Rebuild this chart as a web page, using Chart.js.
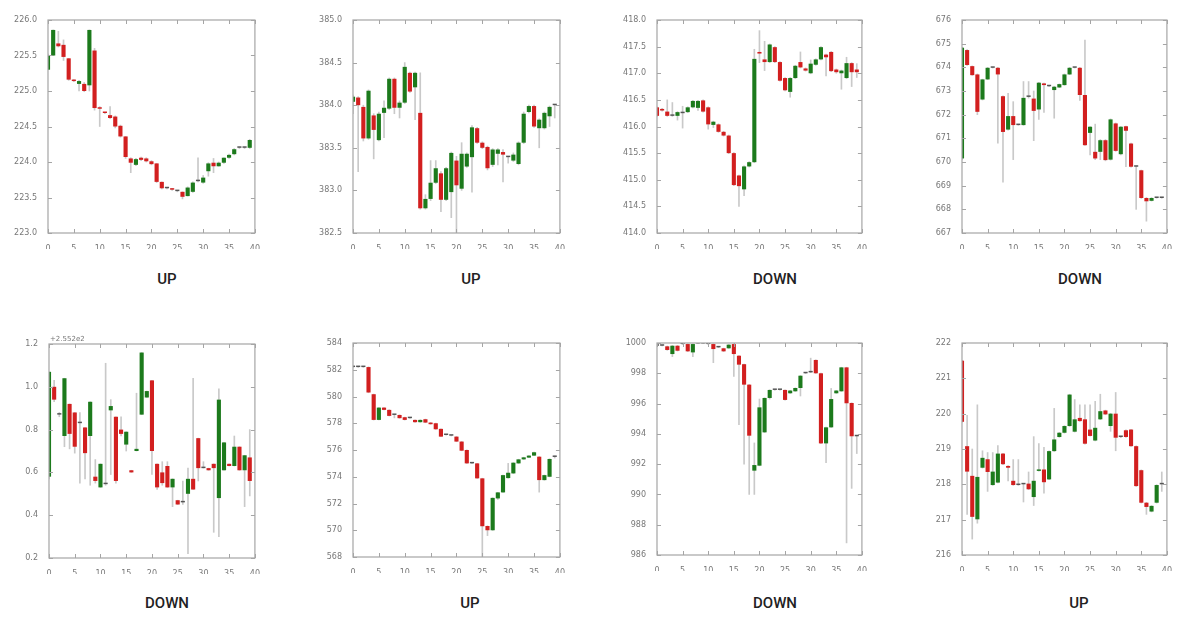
<!DOCTYPE html>
<html lang="en">
<head>
    <meta charset="UTF-8">
    <title>Candlestick panels</title>
    <script src="https://cdn.jsdelivr.net/npm/chart.js"></script>
    <style>
        body { margin: 0; background: #fff; width: 1200px; height: 630px; position: relative; overflow: hidden; }
        .panel { position: absolute; }
        .verdict {
            position: absolute;
            width: 120px;
            margin-left: -60px;
            text-align: center;
            font-family: Roboto, "Open Sans", sans-serif;
            font-weight: 500;
            font-size: 15px;
            color: #222;
        }
    </style>
</head>
<body>
    <div id="root"></div>
    <script>
        // panel 1
        const p1Open  = [225.30,225.50,225.67,225.65,225.46,225.15,225.10,225.10,225.08,225.57,224.77,224.70,224.66,224.64,224.51,224.36,224.05,223.96,224.06,224.05,224.01,223.98,223.72,223.63,223.62,223.59,223.58,223.52,223.58,223.73,223.71,223.87,223.99,223.94,223.99,224.06,224.11,224.20,224.20,224.20];
        const p1Close = [225.50,225.86,225.63,225.48,225.16,225.14,225.14,225.00,225.86,224.76,224.75,224.69,224.62,224.50,224.36,224.07,223.99,224.04,224.03,224.01,223.97,223.72,223.63,223.63,223.61,223.59,223.51,223.64,223.71,223.73,223.78,223.98,223.94,223.99,224.06,224.10,224.18,224.20,224.20,224.31];
        const p1High  = [225.52,225.86,225.84,225.72,225.46,225.16,225.15,225.12,225.86,225.60,224.78,224.70,224.78,224.65,224.52,224.36,224.06,224.05,224.07,224.06,224.02,223.98,223.72,223.64,223.63,223.60,223.58,223.65,223.72,224.06,223.81,223.99,224.05,224.00,224.06,224.11,224.19,224.21,224.21,224.32];
        const p1Low   = [225.30,225.50,225.62,225.43,225.15,225.13,225.00,224.99,225.00,224.73,224.50,224.68,224.61,224.48,224.35,224.05,223.85,223.95,224.02,224.00,223.96,223.71,223.62,223.62,223.60,223.58,223.48,223.52,223.57,223.72,223.70,223.80,223.85,223.94,223.98,224.05,224.10,224.19,224.19,224.19];

        // panel 2
        const p2Open  = [384.04,384.09,383.98,383.61,383.88,383.59,383.91,383.96,384.31,383.97,384.03,384.38,384.21,383.91,382.79,382.90,383.09,383.20,382.89,382.98,383.35,383.02,383.28,383.39,383.73,383.56,383.51,383.30,383.43,383.45,383.39,383.35,383.31,383.56,383.92,383.99,383.73,383.73,383.87,384.00];
        const p2Close = [384.10,384.00,383.61,384.17,383.71,383.90,383.97,384.31,383.97,384.03,384.45,384.16,384.38,382.79,382.90,383.09,383.26,382.89,383.26,383.44,383.06,383.43,383.43,383.74,383.56,383.50,383.26,383.48,383.48,383.42,383.39,383.42,383.56,383.90,383.99,383.75,383.83,383.91,383.98,384.00];
        const p2High  = [384.12,384.10,384.00,384.18,383.90,383.92,384.05,384.32,384.32,384.05,384.50,384.39,384.39,384.38,382.95,383.35,383.35,383.22,383.27,383.45,383.40,383.56,383.44,383.76,383.74,383.57,383.52,383.49,383.49,383.48,383.40,383.44,383.57,383.92,384.00,384.00,383.84,383.92,383.99,384.01];
        const p2Low   = [383.90,383.22,383.58,383.60,383.37,383.58,383.62,383.95,383.90,383.85,384.02,384.15,383.83,382.78,382.78,382.88,383.08,382.75,382.88,382.68,382.50,383.00,383.27,382.98,383.55,383.49,383.24,383.28,383.30,383.10,383.32,383.34,383.30,383.55,383.91,383.74,383.50,383.72,383.75,383.85];

        // panel 3
        const p3Open  = [416.36,416.33,416.28,416.20,416.20,416.25,416.27,416.36,416.35,416.49,416.36,416.03,416.04,415.90,415.83,415.50,415.08,414.82,415.25,415.33,417.40,417.26,417.21,417.49,417.21,416.91,416.65,416.91,417.21,417.09,417.00,417.16,417.26,417.35,417.40,417.07,417.00,416.91,417.19,417.07];
        const p3Close = [416.20,416.30,416.20,416.20,416.27,416.25,416.36,416.48,416.48,416.28,416.04,416.09,415.90,415.83,415.50,414.90,414.88,415.25,415.33,417.27,417.37,417.21,417.54,417.21,416.86,416.68,416.91,417.14,417.11,417.05,417.18,417.26,417.49,417.30,417.04,417.02,417.05,417.19,417.02,417.02];
        const p3High  = [416.37,416.34,416.50,416.45,416.28,416.38,416.37,416.49,416.49,416.50,416.37,416.10,416.05,415.91,415.84,415.51,415.09,415.26,415.34,417.45,417.80,417.60,417.55,417.50,417.22,416.92,416.92,417.15,417.40,417.10,417.25,417.27,417.50,417.36,417.41,417.08,417.06,417.30,417.20,417.18];
        const p3Low   = [416.19,416.29,416.19,416.19,416.12,415.97,416.26,416.35,416.30,416.27,415.95,415.98,415.89,415.82,415.49,414.89,414.50,414.70,415.24,415.32,417.20,417.05,417.20,417.20,416.85,416.67,416.55,416.90,417.10,417.04,416.99,417.15,417.25,416.95,417.03,417.00,416.70,416.90,416.75,416.92];

        // panel 4
        const p4Open  = [670.15,674.73,674.05,673.70,672.64,673.49,673.98,673.98,672.78,671.37,671.94,671.56,671.56,672.75,672.68,672.22,673.32,673.20,673.04,673.15,673.25,673.70,673.98,673.98,672.83,671.23,670.43,670.43,670.92,670.10,671.63,670.33,671.51,670.78,669.80,669.65,668.48,668.36,668.48,668.48];
        const p4Close = [674.83,674.10,673.67,672.12,673.49,673.98,673.98,673.70,671.27,671.94,671.56,671.56,672.71,672.75,672.16,673.35,673.25,673.20,673.18,673.29,673.70,673.98,673.98,672.83,670.71,671.49,670.15,670.92,670.08,671.80,670.47,671.49,671.32,669.80,669.80,668.48,668.34,668.48,668.48,668.48];
        const p4High  = [674.85,674.75,674.06,673.72,673.50,674.00,674.00,674.00,672.80,672.90,672.55,671.58,673.40,673.40,673.00,673.37,673.33,673.22,673.20,673.30,673.72,674.00,674.00,674.00,675.15,671.50,671.60,670.95,670.95,671.82,671.65,671.50,671.52,670.80,669.82,669.66,668.50,668.50,668.50,668.50];
        const p4Low   = [670.10,674.08,673.66,672.00,672.62,673.48,673.97,670.80,669.15,671.35,670.10,671.55,671.55,672.70,670.90,671.80,672.10,673.18,671.85,673.14,673.24,673.69,673.97,672.60,670.70,670.30,670.10,670.10,670.05,670.08,670.45,670.30,669.80,669.78,668.00,668.46,667.50,668.35,668.47,668.47];

        // panel 5 (values relative to the +2.552e2 offset)
        const p5Open  = [0.58,1.00,0.87,0.77,0.92,0.88,0.83,0.81,0.77,0.58,0.53,0.545,0.89,0.86,0.80,0.73,0.61,0.70,0.87,0.95,1.03,0.64,0.60,0.63,0.53,0.47,0.46,0.50,0.57,0.76,0.62,0.62,0.64,0.48,0.61,0.64,0.63,0.72,0.61,0.67];
        const p5Close = [1.07,0.94,0.87,1.04,0.78,0.72,0.83,0.69,0.93,0.56,0.64,0.545,0.91,0.56,0.78,0.79,0.60,0.71,1.16,0.98,0.70,0.53,0.55,0.53,0.57,0.45,0.46,0.57,0.52,0.62,0.62,0.61,0.62,0.94,0.74,0.63,0.72,0.61,0.68,0.56];
        const p5High  = [1.07,1.03,0.88,1.04,0.92,0.88,0.88,0.81,0.93,0.66,0.64,1.11,0.94,0.86,0.86,0.79,0.61,0.97,1.16,0.98,1.03,0.64,0.65,0.65,0.57,0.47,0.56,0.62,1.04,0.76,0.65,0.62,0.64,0.99,0.74,0.64,0.77,0.72,0.68,0.80];
        const p5Low   = [0.57,0.93,0.86,0.72,0.71,0.69,0.55,0.57,0.54,0.55,0.53,0.54,0.59,0.55,0.77,0.70,0.60,0.70,0.87,0.95,0.59,0.52,0.54,0.53,0.44,0.45,0.45,0.22,0.52,0.56,0.62,0.61,0.32,0.30,0.61,0.63,0.63,0.61,0.44,0.49];

        // panel 6
        const p6Open  = [582.20,582.20,582.20,582.20,580.17,578.25,579.17,579.00,578.62,578.62,578.45,578.38,578.25,578.08,578.30,578.05,578.00,577.58,577.12,577.07,577.00,576.63,576.00,575.00,575.00,573.88,570.32,570.00,572.38,572.83,573.90,574.25,575.00,575.30,575.43,575.58,575.50,573.75,574.00,575.48];
        const p6Close = [582.20,582.20,582.20,580.30,578.25,579.17,579.00,578.55,578.62,578.38,578.25,578.38,578.08,578.25,578.05,577.93,577.55,577.00,577.12,577.07,576.63,575.95,575.00,575.00,573.88,570.30,570.00,572.42,572.83,574.12,574.30,575.05,575.30,575.45,575.58,575.83,573.75,574.12,575.33,575.48];
        const p6High  = [582.22,582.22,582.22,582.22,580.18,579.18,579.18,579.01,578.64,578.63,578.46,578.40,578.26,578.26,578.31,578.06,578.01,577.59,577.14,577.09,577.01,576.64,576.01,575.02,575.01,573.89,570.33,572.43,572.84,574.13,575.00,575.06,575.31,575.46,575.59,575.84,575.51,574.13,575.34,575.55];
        const p6Low   = [582.18,582.18,582.18,580.28,578.24,578.24,578.99,578.54,578.40,578.37,578.24,578.36,578.07,578.07,578.04,577.92,577.54,576.99,577.10,577.05,576.62,575.94,574.99,574.98,573.87,568.00,569.60,569.99,572.30,572.82,573.89,574.24,574.99,575.29,575.42,575.57,572.85,573.74,573.99,575.40];

        // panel 7
        const p7Open  = [999.82,999.82,999.78,999.27,999.82,999.93,999.93,999.38,999.97,999.97,999.93,999.93,999.71,999.65,999.65,999.93,999.16,998.60,997.25,991.57,991.90,994.10,996.37,996.90,996.90,996.90,996.68,996.81,997.03,998.00,998.06,998.88,998.00,993.37,994.43,996.68,996.81,998.39,996.04,993.84];
        const p7Close = [999.82,999.82,999.54,999.82,999.49,999.93,999.45,999.93,999.97,999.97,999.93,999.60,999.71,999.45,999.89,999.27,998.57,997.25,993.88,991.94,995.75,996.37,996.90,996.90,996.90,996.24,996.86,997.03,997.84,998.00,998.06,998.00,993.37,994.43,996.30,996.86,998.39,996.02,993.84,993.84];
        const p7High  = [999.85,999.85,999.80,999.84,999.84,999.96,999.95,999.95,999.99,999.99,999.96,999.95,999.73,999.66,999.90,999.95,999.17,998.61,997.26,993.40,996.30,996.38,996.91,996.92,996.92,996.91,996.87,997.04,997.85,998.02,999.00,998.89,998.01,994.44,997.00,996.87,998.40,998.40,996.05,993.86];
        const p7Low   = [999.80,999.80,999.52,999.10,999.47,999.90,999.43,999.10,999.95,999.95,999.90,998.70,999.69,999.43,999.64,997.80,994.60,992.00,990.00,990.00,991.89,994.09,996.30,996.88,996.88,996.23,996.67,996.80,996.50,997.98,998.04,997.99,993.36,992.10,994.42,996.67,996.80,986.80,990.40,992.70];

        // panel 8
        const p8Open  = [221.50,219.08,218.24,217.01,218.47,218.71,217.98,218.05,218.87,218.52,218.10,217.98,218.00,218.02,217.64,218.38,218.42,218.14,218.94,219.34,219.46,219.65,219.49,219.88,219.84,219.55,219.24,219.84,220.09,219.65,220.00,219.34,219.53,219.55,219.08,218.40,217.48,217.23,217.48,218.00];
        const p8Close = [219.77,218.36,217.08,218.21,218.75,218.35,218.36,218.87,218.57,218.47,217.98,217.98,218.00,217.86,218.10,218.42,218.06,218.94,219.27,219.46,219.65,220.54,219.84,219.79,219.15,219.37,219.60,220.07,219.98,220.00,219.32,219.34,219.34,219.08,217.95,217.48,217.36,217.39,217.98,218.00];
        const p8High  = [221.51,219.95,219.00,220.25,218.95,218.90,218.90,219.10,218.88,218.53,218.70,218.70,218.02,218.35,219.35,219.15,219.05,218.95,220.15,219.47,219.66,220.55,220.40,220.25,220.25,220.25,220.35,220.55,220.10,220.01,220.60,219.36,219.54,219.56,219.09,218.41,217.49,217.40,217.99,218.35];
        const p8Low   = [219.76,217.15,216.45,216.90,218.46,217.80,217.97,218.04,218.56,218.10,217.97,217.97,217.50,217.85,217.40,218.37,217.75,218.13,218.93,219.33,219.45,219.64,219.48,219.78,219.14,219.36,219.23,219.83,219.97,219.50,218.95,219.32,219.33,219.07,217.94,217.47,217.15,217.22,217.47,217.80];

        const verdicts = ['UP', 'UP', 'DOWN', 'DOWN', 'DOWN', 'UP', 'DOWN', 'UP'];

        const xTicks = { min: 0, max: 40, step: 5 };

        const panels = [
            { o: p1Open, c: p1Close, h: p1High, l: p1Low, yMin: 223,   yMax: 226,  step: 0.5, dec: 1, rect: [48, 20, 255, 233],   label: [167, 270] },
            { o: p2Open, c: p2Close, h: p2High, l: p2Low, yMin: 382.5, yMax: 385,  step: 0.5, dec: 1, rect: [353, 20, 560, 233],  label: [471, 270] },
            { o: p3Open, c: p3Close, h: p3High, l: p3Low, yMin: 414,   yMax: 418,  step: 0.5, dec: 1, rect: [657, 20, 862, 233],  label: [775, 270] },
            { o: p4Open, c: p4Close, h: p4High, l: p4Low, yMin: 667,   yMax: 676,  step: 1,   dec: 0, rect: [962, 20, 1167, 233], label: [1080, 270] },
            { o: p5Open, c: p5Close, h: p5High, l: p5Low, yMin: 0.2,   yMax: 1.2,  step: 0.2, dec: 1, rect: [49, 344, 255, 558],  label: [167, 594], offsetText: '+2.552e2' },
            { o: p6Open, c: p6Close, h: p6High, l: p6Low, yMin: 568,   yMax: 584,  step: 2,   dec: 0, rect: [353, 343, 560, 557], label: [470, 594] },
            { o: p7Open, c: p7Close, h: p7High, l: p7Low, yMin: 986,   yMax: 1000, step: 2,   dec: 0, rect: [657, 343, 862, 555], label: [775, 594] },
            { o: p8Open, c: p8Close, h: p8High, l: p8Low, yMin: 216,   yMax: 222,  step: 1,   dec: 0, rect: [962, 343, 1167, 555], label: [1079, 594] }
        ];

        const GREEN = '#1c7a1c';
        const RED = '#d21f1f';
        const FLAT = '#555555';
        const WICK = '#c9c9c9';
        const FRAME = '#a5a5a5';
        const tickFont = { family: 'DejaVu Sans', size: 8 };

        // axes box with inward ticks, like the matplotlib classic style
        const framePlugin = {
            id: 'frame',
            afterDatasetsDraw(chart, args, opts) {
                const { ctx, chartArea: a, scales } = chart;
                ctx.save();
                ctx.strokeStyle = FRAME;
                ctx.lineWidth = 1.2;
                ctx.strokeRect(a.left, a.top, a.right - a.left, a.bottom - a.top);
                ctx.lineWidth = 1;
                ctx.beginPath();
                scales.y.ticks.forEach(t => {
                    const y = Math.round(scales.y.getPixelForValue(t.value)) + 0.5;
                    ctx.moveTo(a.left, y); ctx.lineTo(a.left + 4, y);
                    ctx.moveTo(a.right - 4, y); ctx.lineTo(a.right, y);
                });
                scales.x.ticks.forEach(t => {
                    const x = Math.round(scales.x.getPixelForValue(t.value)) + 0.5;
                    ctx.moveTo(x, a.bottom); ctx.lineTo(x, a.bottom - 4);
                    ctx.moveTo(x, a.top); ctx.lineTo(x, a.top + 4);
                });
                ctx.stroke();
                if (opts.offsetText) {
                    ctx.fillStyle = '#777';
                    ctx.font = '7px "DejaVu Sans"';
                    ctx.textAlign = 'left';
                    ctx.textBaseline = 'bottom';
                    ctx.fillText(opts.offsetText, a.left + 1, a.top - 1);
                }
                ctx.restore();
            }
        };

        const PAD_L = 34, PAD_T = 10, PAD_R = 8, PAD_B = 16;
        const root = document.getElementById('root');

        panels.forEach((p, idx) => {
            const [L, T, R, B] = p.rect;
            const w = R - L + PAD_L + PAD_R;
            const h = B - T + PAD_T + PAD_B;

            const div = document.createElement('div');
            div.className = 'panel';
            div.style.left = (L - PAD_L) + 'px';
            div.style.top = (T - PAD_T) + 'px';
            const canvas = document.createElement('canvas');
            canvas.width = w;
            canvas.height = h;
            canvas.style.width = w + 'px';
            canvas.style.height = h + 'px';
            div.appendChild(canvas);
            root.appendChild(div);

            const lab = document.createElement('div');
            lab.className = 'verdict';
            lab.style.left = p.label[0] + 'px';
            lab.style.top = p.label[1] + 'px';
            lab.textContent = verdicts[idx];
            root.appendChild(lab);

            const wicks = p.l.map((lo, i) => ({ x: i, y: [lo, p.h[i]] }));
            const bodies = p.o.map((o, i) => ({ x: i, y: [o, p.c[i]] }));
            const bodyColors = p.o.map((o, i) => p.c[i] > o ? GREEN : (p.c[i] < o ? RED : FLAT));

            new Chart(canvas, {
                type: 'bar',
                data: {
                    datasets: [
                        {
                            data: wicks,
                            backgroundColor: WICK,
                            barThickness: 1,
                            grouped: false,
                            order: 2
                        },
                        {
                            data: bodies,
                            backgroundColor: bodyColors,
                            categoryPercentage: 1,
                            barPercentage: 0.8,
                            minBarLength: 1.5,
                            grouped: false,
                            order: 1
                        }
                    ]
                },
                options: {
                    responsive: false,
                    animation: false,
                    events: [],
                    layout: { padding: { left: 0, top: PAD_T, right: PAD_R, bottom: 0 } },
                    plugins: {
                        legend: { display: false },
                        tooltip: { enabled: false },
                        frame: { offsetText: p.offsetText || '' }
                    },
                    scales: {
                        x: {
                            type: 'linear',
                            offset: false,
                            min: xTicks.min,
                            max: xTicks.max,
                            grid: { display: false, offset: false },
                            border: { display: false },
                            ticks: { stepSize: xTicks.step, color: '#777', font: tickFont, padding: 3, maxRotation: 0 },
                            afterFit: s => { s.height = PAD_B; }
                        },
                        y: {
                            min: p.yMin,
                            max: p.yMax,
                            grid: { display: false },
                            border: { display: false },
                            ticks: {
                                stepSize: p.step,
                                color: '#777',
                                font: tickFont,
                                padding: 3,
                                callback: v => Number(v).toFixed(p.dec)
                            },
                            afterFit: s => { s.width = PAD_L; }
                        }
                    }
                },
                plugins: [framePlugin]
            });
        });
    </script>
</body>
</html>
